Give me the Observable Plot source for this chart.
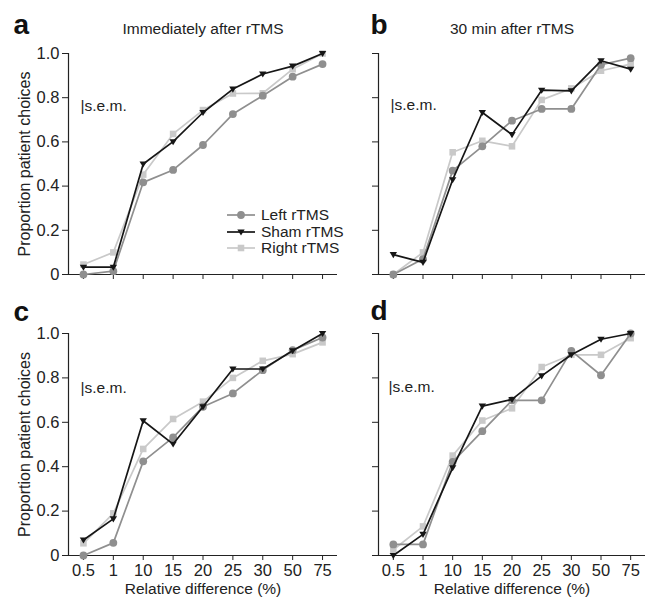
<!DOCTYPE html>
<html><head><meta charset="utf-8">
<script src="https://cdn.jsdelivr.net/npm/d3@7"></script>
<script src="https://cdn.jsdelivr.net/npm/@observablehq/plot@0.6"></script>
<style>
body{margin:0;background:#fff;}
#fig{position:relative;width:647px;height:600px;font-family:"Liberation Sans",Arial,sans-serif;color:#222;overflow:hidden;}
.panel{position:absolute;}
.legend{position:absolute;font-size:15.5px;}
.legend .row{display:flex;align-items:center;height:16.5px;}
.legend svg{margin-right:6px;overflow:visible;}
</style></head><body><div id="fig"></div>
<script>
// ---- data ----
const diffLabels = ["0.5","1","10","15","20","25","30","50","75"];
const yTicks = [0, 0.2, 0.4, 0.6, 0.8, 1.0];
const seriesNames = ["Left rTMS","Sham rTMS","Right rTMS"];
const seriesColors = ["#8f8f8f","#161616","#c9c9c9"];
const panelLetters = ["a","b","c","d"];
const panelTitles = ["Immediately after rTMS","30 min after rTMS","",""];
const yLabel = "Proportion patient choices";
const xLabel = "Relative difference (%)";
const semLabel = "|s.e.m.";

const aLeft  = [0.0, 0.015, 0.417, 0.473, 0.586, 0.726, 0.809, 0.895, 0.952];
const aSham  = [0.033, 0.033, 0.500, 0.601, 0.733, 0.839, 0.907, 0.943, 1.000];
const aRight = [0.045, 0.100, 0.452, 0.636, 0.744, 0.819, 0.820, 0.929, 1.000];

const bLeft  = [0.0, 0.070, 0.470, 0.580, 0.696, 0.749, 0.749, 0.949, 0.979];
const bSham  = [0.090, 0.055, 0.429, 0.733, 0.633, 0.834, 0.831, 0.967, 0.929];
const bRight = [0.0, 0.100, 0.553, 0.605, 0.580, 0.790, 0.842, 0.922, 0.952];

const cLeft  = [0.0, 0.057, 0.424, 0.532, 0.670, 0.730, 0.835, 0.925, 0.982];
const cSham  = [0.070, 0.165, 0.607, 0.502, 0.670, 0.840, 0.840, 0.922, 1.000];
const cRight = [0.055, 0.190, 0.480, 0.615, 0.693, 0.800, 0.877, 0.907, 0.960];

const dLeft  = [0.050, 0.050, 0.422, 0.560, 0.699, 0.699, 0.922, 0.812, 1.000];
const dSham  = [0.0, 0.095, 0.395, 0.673, 0.703, 0.809, 0.904, 0.974, 1.000];
const dRight = [0.026, 0.131, 0.450, 0.608, 0.663, 0.849, 0.904, 0.904, 0.979];

// ---- build ----
const triDown = {draw(ctx, size){ const s = Math.sqrt(size); const w = s*0.52, t = s*0.36, b = s*0.5;
  ctx.moveTo(-w, -t); ctx.lineTo(w, -t); ctx.lineTo(0, b); ctx.closePath(); }};
const symbols = ["circle", triDown, "square"];
const radii = [3.9, 4.0, 3.7];
const drawOrder = [2, 0, 1];

function rows(vals, s){ return vals.map((v,i)=>({i, v, s})); }

const panels = [
  {idx:0, data:[aLeft,aSham,aRight], left:0,   top:0,   width:340, ml:68, mr:3, mt:53, mb:16, h:290, yl:true,  xl:false, semDx:12, semDy:53, letDx:-55, letDy:-20},
  {idx:1, data:[bLeft,bSham,bRight], left:310, top:0,   width:337, ml:68, mr:2, mt:53, mb:16, h:290, yl:false, xl:false, semDx:12, semDy:52, letDx:-8, letDy:-20},
  {idx:2, data:[cLeft,cSham,cRight], left:0,   top:290, width:340, ml:68, mr:3, mt:43, mb:45, h:310, yl:true,  xl:true,  semDx:12, semDy:55, letDx:-55, letDy:-13},
  {idx:3, data:[dLeft,dSham,dRight], left:310, top:290, width:337, ml:68, mr:2, mt:43, mb:45, h:310, yl:false, xl:true,  semDx:10, semDy:54, letDx:-8, letDy:-14},
];

const fig = document.getElementById("fig");

for (const p of panels) {
  const marks = [
    Plot.ruleY([0], {stroke:"#222", strokeWidth:1.2}),
    Plot.ruleX([-0.5], {stroke:"#222", strokeWidth:1.2}),
  ];
  for (const s of drawOrder) {
    const d = rows(p.data[s], s);
    marks.push(Plot.line(d, {x:"i", y:"v", stroke: seriesColors[s], strokeWidth:1.7}));
    marks.push(Plot.dot(d, {x:"i", y:"v", fill: seriesColors[s], stroke:"none", symbol: symbols[s], r: radii[s]}));
  }
  marks.push(Plot.text([panelLetters[p.idx]], {frameAnchor:"top-left", dx:p.letDx, dy:p.letDy, textAnchor:"start", lineAnchor:"bottom", fontSize:28, fontWeight:"bold", fill:"#111"}));
  if (panelTitles[p.idx]) marks.push(Plot.text([panelTitles[p.idx]], {frameAnchor:"top", dy:-24, textAnchor:"middle", lineAnchor:"middle", fontSize:15.5, fill:"#222"}));
  marks.push(Plot.text([semLabel], {frameAnchor:"top-left", dx:p.semDx, dy:p.semDy, textAnchor:"start", lineAnchor:"middle", fontSize:15.5, fill:"#222"}));
  if (p.yl) marks.push(Plot.text([yLabel], {frameAnchor:"left", dx:-44, rotate:-90, textAnchor:"middle", lineAnchor:"middle", fontSize:16, fill:"#222"}));
  if (p.xl) marks.push(Plot.text([xLabel], {frameAnchor:"bottom", dy:34, textAnchor:"middle", lineAnchor:"middle", fontSize:15.5, fill:"#222"}));

  const svg = Plot.plot({
    width: p.width, height: p.h,
    marginLeft: p.ml, marginRight: p.mr, marginTop: p.mt, marginBottom: p.mb,
    style: {background:"transparent", overflow:"visible", fontFamily:'"Liberation Sans", Arial, sans-serif', fontSize:"16.5px", color:"#222"},
    x: {domain:[-0.5, 8.5], ticks: d3.range(diffLabels.length), tickFormat: p.xl ? (i => diffLabels[i]) : (() => ""), tickSize:5, tickPadding:4, label:null, axis:"bottom"},
    y: {domain:[0,1], ticks: yTicks, tickFormat: p.yl ? (d => d === 0 ? "0" : d.toFixed(1)) : (() => ""), tickSize:6, tickPadding:3, label:null, axis:"left"},
    marks
  });
  const div = document.createElement("div");
  div.className = "panel";
  div.style.left = p.left + "px";
  div.style.top = p.top + "px";
  div.appendChild(svg);
  fig.appendChild(div);
}

// legend (panel a)
const leg = document.createElement("div");
leg.className = "legend";
leg.style.left = "227px";
leg.style.top = "207px";
for (let s = 0; s < 3; s++) {
  const row = document.createElement("div");
  row.className = "row";
  const ns = "http://www.w3.org/2000/svg";
  const sv = document.createElementNS(ns, "svg");
  sv.setAttribute("width", 28); sv.setAttribute("height", 10);
  const ln = document.createElementNS(ns, "line");
  ln.setAttribute("x1", 0); ln.setAttribute("x2", 28); ln.setAttribute("y1", 5); ln.setAttribute("y2", 5);
  ln.setAttribute("stroke", seriesColors[s]); ln.setAttribute("stroke-width", 1.7);
  sv.appendChild(ln);
  const path = document.createElementNS(ns, "path");
  const sym = typeof symbols[s] === "string" ? (symbols[s] === "circle" ? d3.symbolCircle : d3.symbolSquare) : symbols[s];
  path.setAttribute("d", d3.symbol(sym, Math.PI * radii[s] * radii[s])());
  path.setAttribute("transform", "translate(14,5)");
  path.setAttribute("fill", seriesColors[s]);
  sv.appendChild(path);
  row.appendChild(sv);
  const sp = document.createElement("span");
  sp.textContent = seriesNames[s];
  row.appendChild(sp);
  leg.appendChild(row);
}
fig.appendChild(leg);
</script>
</body></html>
